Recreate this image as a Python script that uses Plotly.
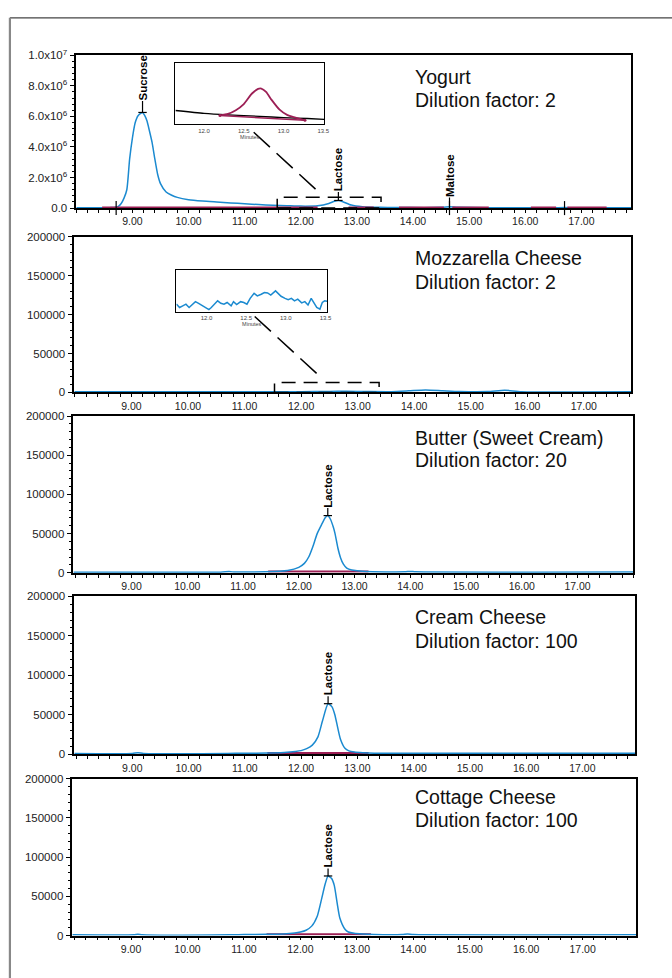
import plotly.graph_objects as go

W, H = 672, 978
BLUE = "#1b8ad0"
MAROON = "#9c1f55"
FONT = "Liberation Sans, Arial, sans-serif"

# ---------------- data ----------------
yogurt_t = [8.0, 8.6, 8.7, 8.75, 8.8, 8.85, 8.9, 8.95, 9.0, 9.05,
            9.1, 9.18, 9.22, 9.26, 9.3, 9.35, 9.4, 9.45, 9.5, 9.6,
            9.7, 9.8, 10.0, 10.25, 10.5, 10.75, 11.0, 11.25, 11.5, 11.75,
            12.0, 12.3, 12.5, 12.6, 12.67, 12.75, 12.9, 13.1, 13.4, 13.7,
            14.2, 14.55, 14.65, 14.8, 15.3, 16.0, 16.5, 16.7, 16.9, 17.89]
yogurt_i = [0.02e6, 0.03e6, 0.05e6, 0.12e6, 0.3e6, 0.65e6, 1.2e6, 3.2e6, 4.6e6, 5.6e6,
            6.05e6, 6.26e6, 6.05e6, 5.7e6, 5.1e6, 4.3e6, 3.2e6, 2.2e6, 1.6e6, 1.05e6,
            0.84e6, 0.7e6, 0.55e6, 0.46e6, 0.4e6, 0.34e6, 0.28e6, 0.23e6, 0.19e6, 0.16e6,
            0.13e6, 0.15e6, 0.3e6, 0.45e6, 0.5e6, 0.42e6, 0.2e6, 0.09e6, 0.05e6, 0.04e6,
            0.03e6, 0.06e6, 0.08e6, 0.05e6, 0.03e6, 0.02e6, 0.02e6, 0.04e6, 0.02e6, 0.02e6]
yogurt_base_t = [8.46, 12.3, None, 12.85, 13.3, None, 13.75, 14.55, None,
                 14.7, 15.35, None, 16.1, 16.55, None, 16.75, 17.45]
yogurt_base_i = [4e4, 4e4, None, 4e4, 4e4, None, 4e4, 4e4, None,
                 4e4, 4e4, None, 4e4, 4e4, None, 4e4, 4e4]
yogurt_marks_t = [8.71, 14.65, 16.7]

yog_inset_black_t = [11.64, 12.0, 12.3, 12.7, 13.0, 13.3, 13.51]
yog_inset_black_i = [0.226, 0.18, 0.155, 0.13, 0.11, 0.095, 0.08]
yog_inset_peak_t = [12.2, 12.3, 12.4, 12.5, 12.6, 12.68, 12.72, 12.78, 12.85,
                    12.95, 13.05, 13.15, 13.27]
yog_inset_peak_i = [0.145, 0.17, 0.23, 0.33, 0.5, 0.58, 0.585, 0.53, 0.4,
                    0.24, 0.15, 0.11, 0.065]
yog_inset_base_t = [12.2, 13.27]
yog_inset_base_i = [0.145, 0.065]

mozz_t = [7.99, 11.5, 12.0, 12.5, 12.8, 13.2, 13.6, 13.9, 14.2, 14.5,
          14.8, 15.3, 15.6, 15.9, 17.84]
mozz_i = [800, 900, 1000, 1300, 1500, 1100, 1000, 2000, 3200, 2200,
          1200, 1100, 2800, 1000, 800]
mozz_inset_t = [11.62, 11.66, 11.70, 11.74, 11.78, 11.82, 11.86, 11.90, 11.95, 11.99,
                12.03, 12.06, 12.10, 12.14, 12.18, 12.22, 12.26, 12.31, 12.34, 12.38,
                12.43, 12.47, 12.51, 12.55, 12.60, 12.64, 12.69, 12.73, 12.77, 12.81,
                12.87, 12.90, 12.94, 12.99, 13.03, 13.07, 13.11, 13.15, 13.20, 13.24,
                13.28, 13.32, 13.35, 13.39, 13.43, 13.46, 13.49, 13.52]
mozz_inset_i = [0.18, 0.10, 0.14, 0.18, 0.10, 0.18, 0.24, 0.20, 0.14, 0.10,
                0.05, 0.10, 0.18, 0.26, 0.20, 0.18, 0.22, 0.14, 0.24, 0.17,
                0.24, 0.22, 0.18, 0.32, 0.44, 0.38, 0.42, 0.46, 0.45, 0.40,
                0.50, 0.45, 0.37, 0.32, 0.29, 0.32, 0.26, 0.30, 0.21, 0.24,
                0.16, 0.32, 0.22, 0.10, 0.06, 0.22, 0.26, 0.25]

butter_t = [7.96, 10.6, 10.75, 10.85, 11.0, 11.4, 11.8, 12.0, 12.1, 12.18,
            12.25, 12.33, 12.42, 12.47, 12.52, 12.57, 12.62, 12.65, 12.7, 12.75,
            12.8, 12.86, 12.95, 13.05, 13.2, 13.9, 14.0, 14.1, 18.0]
butter_i = [800, 800, 1500, 900, 1000, 1200, 3000, 7000, 12000, 20500,
            33000, 50000, 63000, 70000, 73000, 68000, 58000, 50000, 32000, 19000,
            11000, 6000, 3500, 2500, 1500, 1200, 1800, 1200, 1000]
butter_base_t = [11.45, 13.25]
butter_base_i = [1500, 1500]

cream_t = [7.97, 9.0, 9.1, 9.2, 10.7, 11.0, 11.4, 11.7, 11.9, 12.0,
           12.1, 12.2, 12.3, 12.38, 12.48, 12.55, 12.6, 12.65, 12.7, 12.78,
           12.85, 12.95, 13.1, 13.3, 17.94]
cream_i = [900, 900, 1800, 900, 900, 1200, 1400, 2200, 3500, 4500,
           7000, 11500, 22000, 42000, 64000, 60000, 50000, 34000, 19000, 7500,
           4200, 2600, 1800, 1300, 1000]
cream_base_t = [11.4, 13.2]
cream_base_i = [1500, 1500]

cottage_t = [7.96, 9.05, 9.12, 9.2, 10.75, 11.0, 11.4, 11.7, 11.9, 12.0,
             12.1, 12.2, 12.3, 12.38, 12.44, 12.49, 12.55, 12.6, 12.65, 12.7,
             12.79, 12.85, 12.95, 13.1, 13.3, 13.8, 13.9, 14.0, 17.95]
cottage_i = [900, 900, 1700, 900, 900, 1300, 1500, 2000, 3200, 4500,
             6800, 12000, 25000, 48000, 66000, 76000, 73000, 64000, 42000, 22000,
             8000, 4500, 2800, 1900, 1300, 1300, 2000, 1300, 1000]
cottage_base_t = [11.4, 13.25]
cottage_base_i = [1500, 1500]

panel_titles = ["Yogurt", "Mozzarella Cheese", "Butter (Sweet Cream)",
                "Cream Cheese", "Cottage Cheese"]
panel_dilutions = ["Dilution factor: 2", "Dilution factor: 2", "Dilution factor: 20",
                   "Dilution factor: 100", "Dilution factor: 100"]

peak_labels = [(1, "Sucrose", 9.18, 6.26e6), (1, "Lactose", 12.67, 0.5e6),
               (1, "Maltose", 14.65, 0.0), (3, "Lactose", 12.52, 73000),
               (4, "Lactose", 12.48, 64000), (5, "Lactose", 12.49, 76000)]

x_tickvals = [9, 10, 11, 12, 13, 14, 15, 16, 17]
x_ticktext = ["9.00", "10.00", "11.00", "12.00", "13.00", "14.00", "15.00", "16.00", "17.00"]
y1_tickvals = [0, 2e6, 4e6, 6e6, 8e6, 1e7]
y1_ticktext = ["0.0", "2.0x10<sup>6</sup>", "4.0x10<sup>6</sup>", "6.0x10<sup>6</sup>",
               "8.0x10<sup>6</sup>", "1.0x10<sup>7</sup>"]
y_tickvals = [0, 50000, 100000, 150000, 200000]
y_ticktext = ["0", "50000", "100000", "150000", "200000"]
inset_tickvals = [12.0, 12.5, 13.0, 13.5]
inset_ticktext = ["12.0", "12.5", "13.0", "13.5"]

# ---------------- layout geometry (pixels) ----------------
def px(x):
    return x / W

def py(y):
    return 1 - y / H

panels = [
    dict(l=77, r=637, t=48, b=203, xr=[8.0, 17.89], yr=[0, 1e7]),
    dict(l=75, r=637, t=232, b=390, xr=[7.99, 17.84], yr=[0, 200000]),
    dict(l=74, r=639, t=414, b=573, xr=[7.956, 18.0], yr=[0, 200000]),
    dict(l=75, r=641, t=597, b=757, xr=[7.97, 17.94], yr=[0, 200000]),
    dict(l=73, r=642, t=782, b=941, xr=[7.96, 17.95], yr=[0, 200000]),
]
title_y = [(70, 93), (254, 278), (436, 459), (618, 642), (800, 824)]

fig = go.Figure()
layout = dict(width=W, height=H, margin=dict(l=0, r=0, t=0, b=0),
              paper_bgcolor="white", plot_bgcolor="white", showlegend=False,
              font=dict(family=FONT, color="#111"))

for k, p in enumerate(panels, start=1):
    sfx = "" if k == 1 else str(k)
    if k == 1:
        ytv, ytt, minor_dt = y1_tickvals, y1_ticktext, 4e5
    else:
        ytv, ytt, minor_dt = y_tickvals, y_ticktext, 10000
    layout["xaxis" + sfx] = dict(
        domain=[px(p["l"]), px(p["r"])], range=p["xr"], anchor="y" + sfx,
        showline=True, linecolor="black", linewidth=1.5, mirror=True,
        ticks="outside", ticklen=3, tickwidth=1, tickcolor="black",
        tickmode="array", tickvals=x_tickvals, ticktext=x_ticktext,
        tickfont=dict(size=10.5, family=FONT, color="#222"),
        minor=dict(tickmode="linear", tick0=0, dtick=0.2, ticks="outside",
                   ticklen=3, tickcolor="black"),
        showgrid=False, zeroline=False)
    layout["yaxis" + sfx] = dict(
        domain=[py(p["b"]), py(p["t"])], range=p["yr"], anchor="x" + sfx,
        showline=True, linecolor="black", linewidth=1.5, mirror=True,
        ticks="outside", ticklen=5, tickwidth=1, tickcolor="black",
        tickmode="array", tickvals=ytv, ticktext=ytt,
        tickfont=dict(size=11.5, family=FONT, color="#222"),
        minor=dict(tickmode="linear", tick0=0, dtick=minor_dt, ticks="outside",
                   ticklen=3, tickcolor="black"),
        showgrid=False, zeroline=False)

insets = [dict(l=177, r=327, t=56, b=118, xr=[11.64, 13.51]),
          dict(l=178, r=330, t=266, b=308, xr=[11.62, 13.52])]
for j, ins in enumerate(insets, start=6):
    layout["xaxis%d" % j] = dict(
        domain=[px(ins["l"]), px(ins["r"])], range=ins["xr"], anchor="y%d" % j,
        showline=True, linecolor="black", linewidth=1.3, mirror=True, ticks="",
        tickmode="array", tickvals=inset_tickvals, ticktext=inset_ticktext,
        tickfont=dict(size=6, family=FONT, color="#444"),
        title=dict(text="Minutes", font=dict(size=5.5, family=FONT, color="#444"), standoff=1),
        showgrid=False, zeroline=False)
    layout["yaxis%d" % j] = dict(
        domain=[py(ins["b"]), py(ins["t"])], range=[0, 1], anchor="x%d" % j,
        showline=True, linecolor="black", linewidth=1.3, mirror=True,
        showticklabels=False, ticks="", showgrid=False, zeroline=False)

def line_trace(t, i, ax, color, width=1.5, spline=True):
    return go.Scatter(x=t, y=i, xaxis="x" + ax, yaxis="y" + ax, mode="lines",
                      line=dict(color=color, width=width,
                                shape="spline" if spline else "linear",
                                smoothing=0.6 if spline else None),
                      connectgaps=False, hoverinfo="skip")

fig.add_trace(line_trace(yogurt_t, yogurt_i, "", BLUE))
fig.add_trace(line_trace(yogurt_base_t, yogurt_base_i, "", MAROON, 2, False))
fig.add_trace(go.Scatter(x=yogurt_marks_t, y=[0] * len(yogurt_marks_t), xaxis="x", yaxis="y",
                         mode="markers", cliponaxis=False,
                         marker=dict(symbol="line-ns", size=10,
                                     line=dict(color="black", width=1.2)),
                         hoverinfo="skip"))
fig.add_trace(line_trace(mozz_t, mozz_i, "2", BLUE))
fig.add_trace(line_trace(butter_base_t, butter_base_i, "3", MAROON, 2, False))
fig.add_trace(line_trace(butter_t, butter_i, "3", BLUE))
fig.add_trace(line_trace(cream_base_t, cream_base_i, "4", MAROON, 2, False))
fig.add_trace(line_trace(cream_t, cream_i, "4", BLUE))
fig.add_trace(line_trace(cottage_base_t, cottage_base_i, "5", MAROON, 2, False))
fig.add_trace(line_trace(cottage_t, cottage_i, "5", BLUE))
fig.add_trace(line_trace(yog_inset_black_t, yog_inset_black_i, "6", "black", 1.3))
fig.add_trace(line_trace(yog_inset_base_t, yog_inset_base_i, "6", MAROON, 1.5, False))
fig.add_trace(line_trace(yog_inset_peak_t, yog_inset_peak_i, "6", MAROON, 1.8))
fig.add_trace(go.Scatter(x=[yog_inset_base_t[0], yog_inset_base_t[-1]],
                         y=[yog_inset_base_i[0], yog_inset_base_i[-1]],
                         xaxis="x6", yaxis="y6", mode="markers",
                         marker=dict(color=MAROON, size=3), hoverinfo="skip"))
fig.add_trace(line_trace(mozz_inset_t, mozz_inset_i, "7", BLUE, 1.5, False))

for (pn, name, t, v) in peak_labels:
    ax = "" if pn == 1 else str(pn)
    if name != "Maltose":
        fig.add_trace(go.Scatter(x=[t], y=[v], xaxis="x" + ax, yaxis="y" + ax,
                                 mode="markers", cliponaxis=False,
                                 marker=dict(symbol="line-ew", size=6,
                                             line=dict(color="black", width=1.2)),
                                 hoverinfo="skip"))

LABEL_SIZE = 11.5
half_len = {"Sucrose": 23.5, "Lactose": 22.5, "Maltose": 22.5}
annotations = []
for (pn, name, t, v) in peak_labels:
    ax = "" if pn == 1 else str(pn)
    lead = {"Sucrose": 11, "Maltose": 10}.get(name, 7)
    if pn == 1 and name == "Lactose":
        lead = 8
    annotations.append(dict(
        x=t, y=v, xref="x" + ax, yref="y" + ax, text="<b>%s</b>" % name,
        textangle=-90, showarrow=True, arrowhead=0, arrowwidth=1.2,
        arrowcolor="black", ax=0, ay=-(lead + half_len[name]),
        borderpad=0, standoff=0, startstandoff=0,
        font=dict(size=LABEL_SIZE, family=FONT, color="black")))

for k, (ty1, ty2) in enumerate(title_y):
    annotations.append(dict(x=px(417), y=py(ty1), xref="paper", yref="paper",
                            text=panel_titles[k], showarrow=False,
                            xanchor="left", yanchor="middle",
                            font=dict(size=19.5, family=FONT, color="#111")))
    annotations.append(dict(x=px(417), y=py(ty2), xref="paper", yref="paper",
                            text=panel_dilutions[k], showarrow=False,
                            xanchor="left", yanchor="middle",
                            font=dict(size=19.5, family=FONT, color="#111")))

shapes = [
    dict(type="line", xref="paper", yref="paper", x0=px(10), x1=1.01, y0=py(10), y1=py(10),
         line=dict(color="#444", width=1.3)),
    dict(type="line", xref="paper", yref="paper", x0=px(10), x1=px(10), y0=py(10), y1=-0.01,
         line=dict(color="#888", width=2.2)),
    dict(type="rect", xref="x", yref="y", x0=11.58, x1=13.43, y0=0, y1=7.1e5,
         line=dict(color="black", width=1.5, dash="14px,8px")),
    dict(type="rect", xref="x2", yref="y2", x0=11.53, x1=13.38, y0=0, y1=12660,
         line=dict(color="black", width=1.5, dash="14px,8px")),
    dict(type="line", xref="paper", yref="paper", x0=px(256), y0=py(126), x1=px(323), y1=py(188),
         line=dict(color="black", width=1.5, dash="22px,9px")),
    dict(type="line", xref="paper", yref="paper", x0=px(257), y0=py(313), x1=px(322), y1=py(373),
         line=dict(color="black", width=1.5, dash="22px,9px")),
]

layout["annotations"] = annotations
layout["shapes"] = shapes
fig.update_layout(**layout)
fig.write_html("out.html",
               post_script="document.body.style.margin='0';document.body.style.padding='0';")
